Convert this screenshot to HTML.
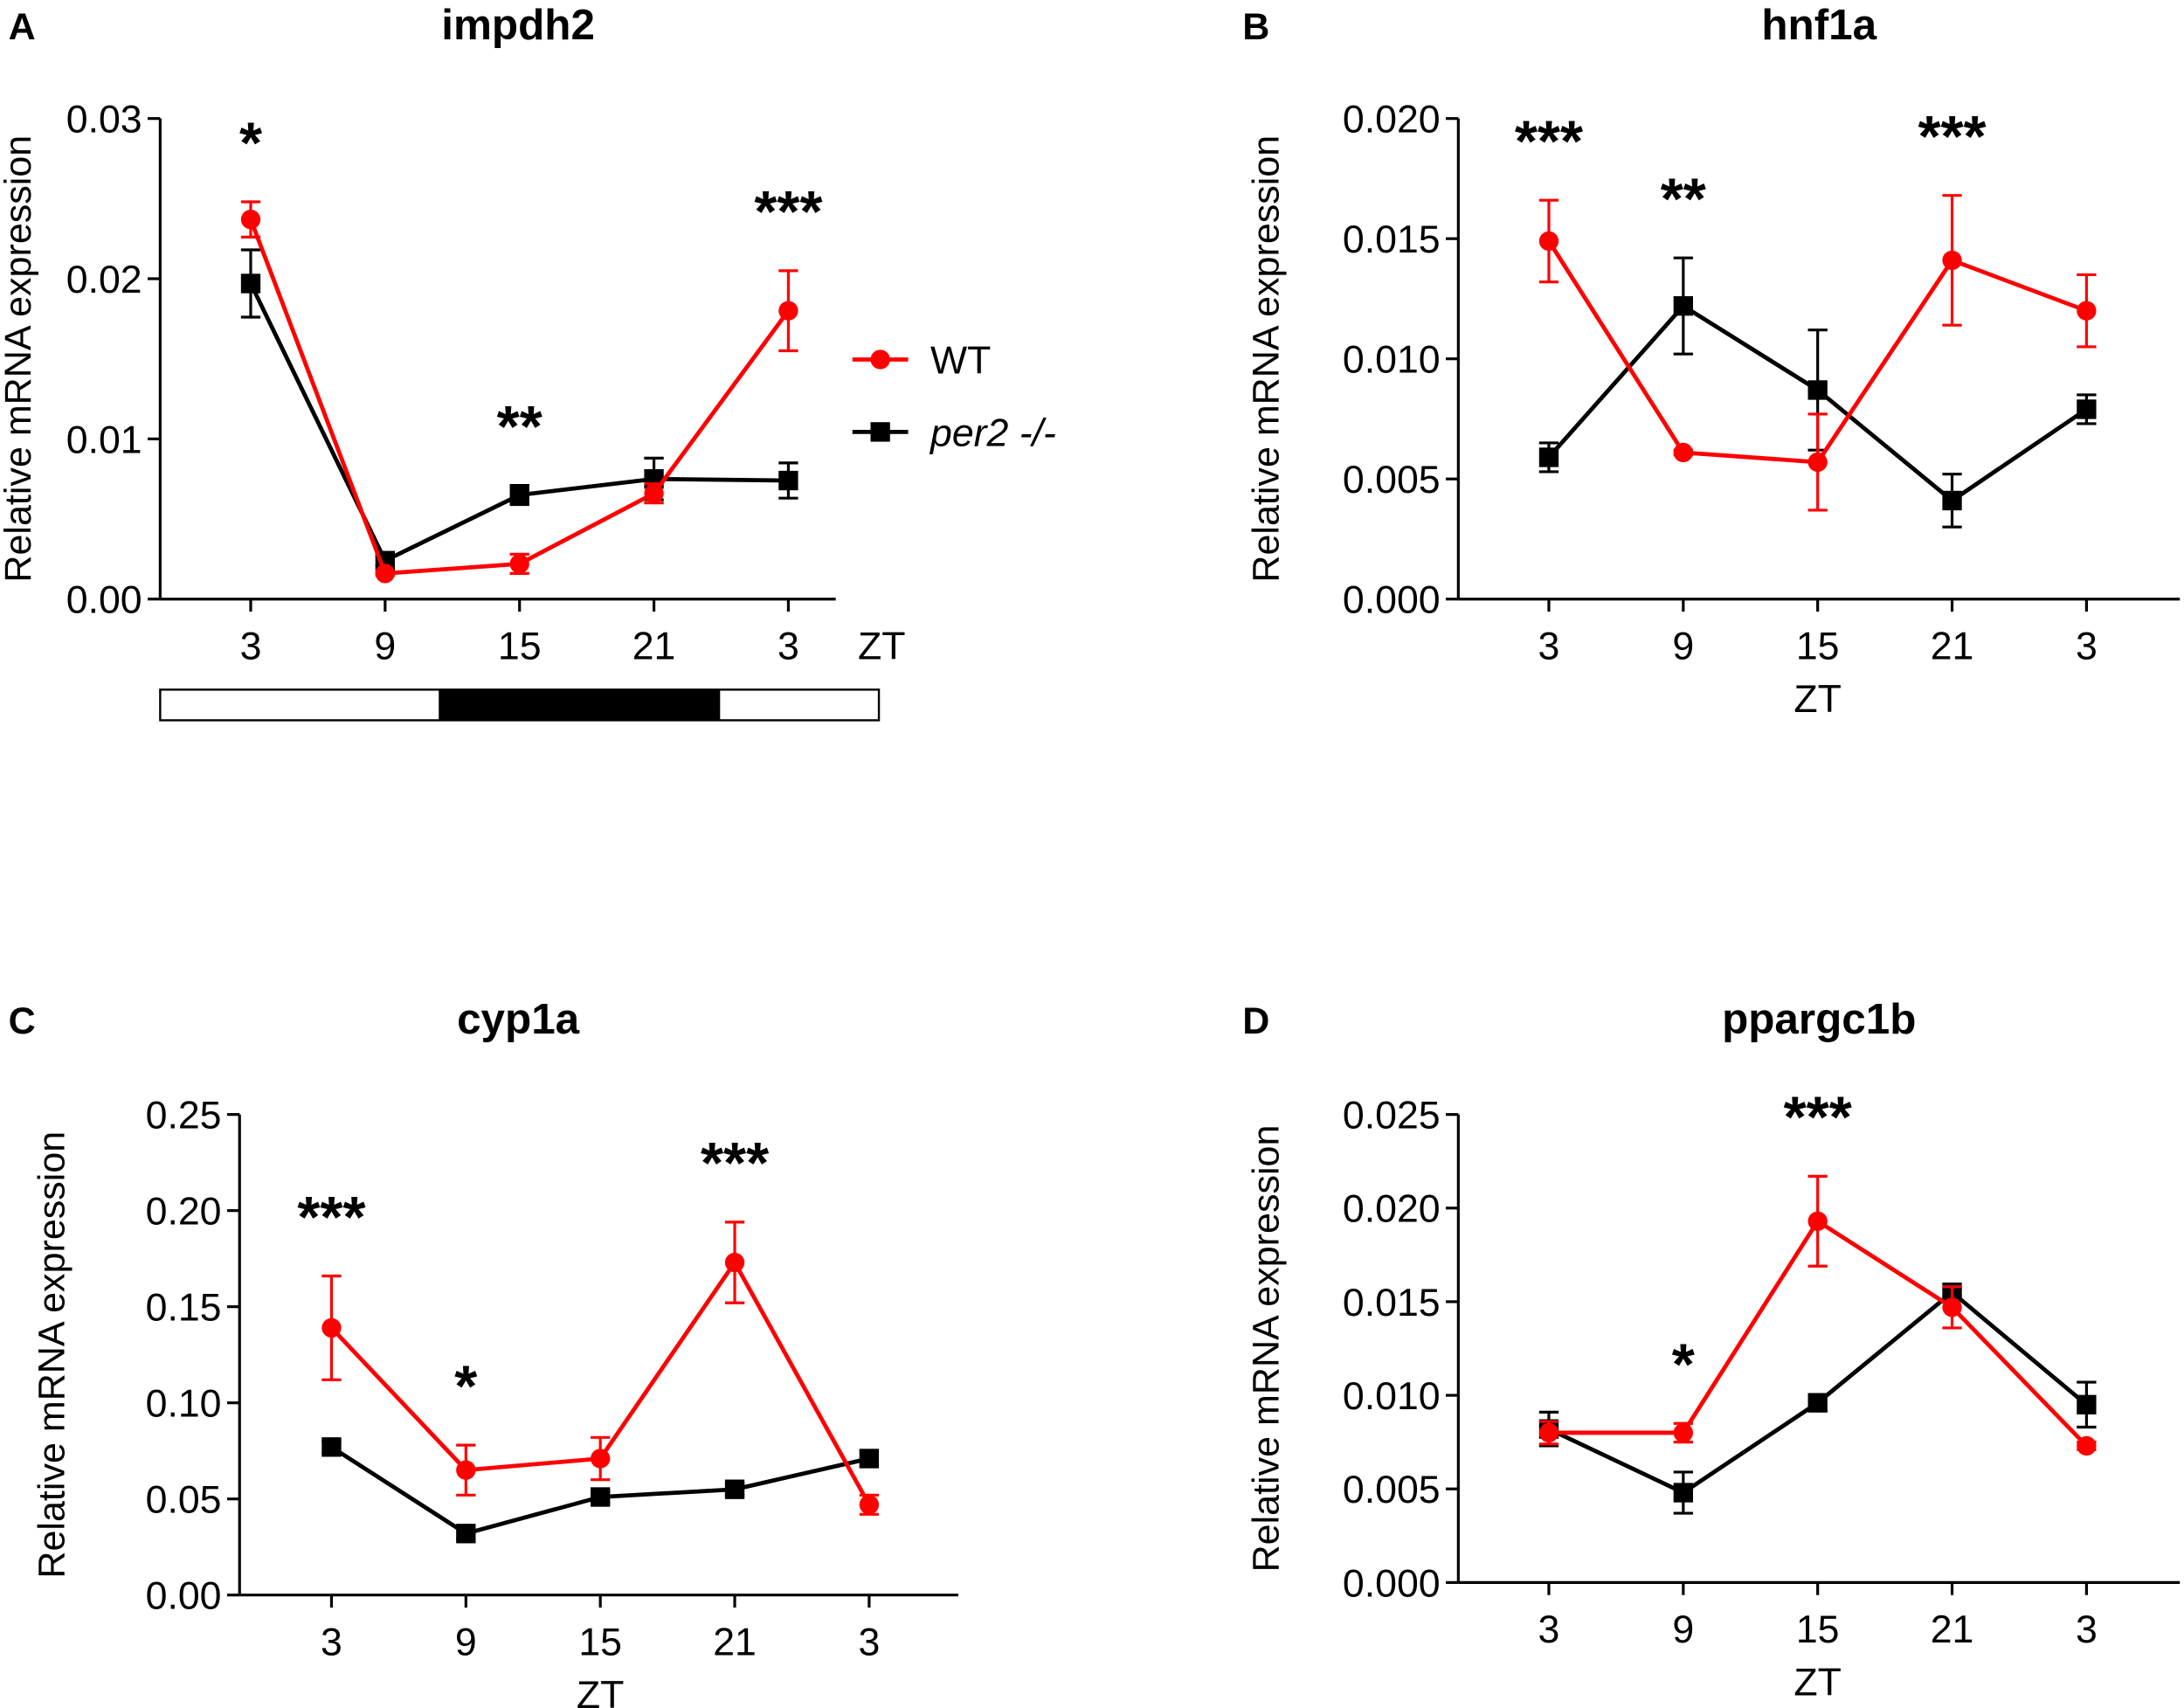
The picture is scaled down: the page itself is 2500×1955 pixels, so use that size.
<!DOCTYPE html>
<html><head><meta charset="utf-8">
<style>
html,body{margin:0;padding:0;background:#fff;}
svg{display:block;font-family:"Liberation Sans",Arial,sans-serif;}
</style></head>
<body>
<svg id="fig" width="2500" height="1955" viewBox="0 0 1568 1226" xmlns="http://www.w3.org/2000/svg"></svg>
<script>
const xCategories = ["3","9","15","21","3"];
// Panel A
const aWT = [0.0237,0.0016,0.0022,0.0066,0.0180];
const aWTerr = [0.0011,0.0001,0.0006,0.0006,0.0025];
const aKO = [0.0197,0.0024,0.0065,0.0075,0.0074];
const aKOerr = [0.0021,0.0003,0.0006,0.0013,0.0011];
const aTicks = ["0.00","0.01","0.02","0.03"];
const aStars = ["*","","**","","***"];
// Panel B
const bWT = [0.0149,0.0061,0.0057,0.0141,0.0120];
const bWTerr = [0.0017,0.0001,0.0020,0.0027,0.0015];
const bKO = [0.0059,0.0122,0.0087,0.0041,0.0079];
const bKOerr = [0.0006,0.0020,0.0025,0.0011,0.0006];
const bTicks = ["0.000","0.005","0.010","0.015","0.020"];
const bStars = ["***","**","","***",""];
// Panel C
const cWT = [0.139,0.065,0.071,0.173,0.047];
const cWTerr = [0.027,0.013,0.011,0.021,0.005];
const cKO = [0.077,0.032,0.051,0.055,0.071];
const cKOerr = [0.003,0.003,0.003,0.003,0.004];
const cTicks = ["0.00","0.05","0.10","0.15","0.20","0.25"];
const cStars = ["***","*","","***",""];
// Panel D
const dWT = [0.0080,0.0080,0.0193,0.0147,0.0073];
const dWTerr = [0.0006,0.0005,0.0024,0.0011,0.0002];
const dKO = [0.0082,0.0048,0.0096,0.0155,0.0095];
const dKOerr = [0.0009,0.0011,0.0004,0.0002,0.0012];
const dTicks = ["0.000","0.005","0.010","0.015","0.020","0.025"];
const dStars = ["","*","***","",""];

const svg=document.getElementById('fig');
const NS="http://www.w3.org/2000/svg";
function el(tag,attrs,parent,text){const e=document.createElementNS(NS,tag);for(const k in attrs)e.setAttribute(k,attrs[k]);if(text!==undefined)e.textContent=text;(parent||svg).appendChild(e);return e;}

function panel(cfg){
  const g=el('g',{},svg);
  
  
  const yMax=cfg.yMax;
  const ys=v=>cfg.y0-(v/yMax)*(cfg.y0-cfg.yTop);
  const xs=i=>cfg.x0+i*cfg.dx;
  const ya=el('line',{x1:cfg.ax,y1:cfg.yTop,x2:cfg.ax,y2:cfg.y0,stroke:'#000','stroke-width':2},g);
  
  
  const xa=el('line',{x1:cfg.ax,y1:cfg.y0,x2:cfg.axEnd,y2:cfg.y0,stroke:'#000','stroke-width':2},g);
  
  
  cfg.ticks.forEach((t,i)=>{
    const v=i*yMax/(cfg.ticks.length-1);const y=ys(v);
    el('line',{x1:cfg.ax-9,y1:y,x2:cfg.ax,y2:y,stroke:'#000','stroke-width':2},g);
    const tl=el('text',{x:cfg.ax-13,y:y+10,'text-anchor':'end','font-size':28},g,t);
    
    
  });
  xCategories.forEach((c,i)=>{
    const x=xs(i);
    el('line',{x1:x,y1:cfg.y0,x2:x,y2:cfg.y0+9,stroke:'#000','stroke-width':2},g);
    const tl=el('text',{x:x,y:cfg.y0+43,'text-anchor':'middle','font-size':28},g,c);
    
    
  });
  const yl=el('text',{x:0,y:0,'text-anchor':'middle','font-size':27,transform:`translate(${cfg.ylx},${(cfg.y0+cfg.yTop)/2}) rotate(-90)`},g,'Relative mRNA expression');
  
  
  if(cfg.ztBelow){
    const zt=el('text',{x:xs(2),y:cfg.y0+81,'text-anchor':'middle','font-size':28},g,'ZT');
    
    
  }
  const ti=el('text',{x:cfg.titleX,y:cfg.titleY,'text-anchor':'middle','font-size':31,'font-weight':'bold'},g,cfg.title);
  
  
  const lb=el('text',{x:cfg.lx,y:cfg.titleY,'font-size':27,'font-weight':'bold'},g,cfg.key);
  
  
  function series(vals,errs,color,shape,name){
    const sg=el('g',{},g);
    
    
    errs.forEach((e,i)=>{
      const x=xs(i);
      el('line',{x1:x,y1:ys(vals[i]+e),x2:x,y2:ys(vals[i]-e),stroke:color,'stroke-width':2},sg);
      el('line',{x1:x-7,y1:ys(vals[i]+e),x2:x+7,y2:ys(vals[i]+e),stroke:color,'stroke-width':2},sg);
      el('line',{x1:x-7,y1:ys(vals[i]-e),x2:x+7,y2:ys(vals[i]-e),stroke:color,'stroke-width':2},sg);
    });
    el('polyline',{points:vals.map((v,i)=>xs(i)+','+ys(v)).join(' '),fill:'none',stroke:color,'stroke-width':3},sg);
    vals.forEach((v,i)=>{
      let m;
      if(shape==='c') m=el('circle',{cx:xs(i),cy:ys(v),r:7,fill:color},sg);
      else m=el('rect',{x:xs(i)-7,y:ys(v)-7,width:14,height:14,fill:color},sg);
      
      
    });
  }
  series(cfg.ko,cfg.koErr,'#000','s','series-per2');
  series(cfg.wt,cfg.wtErr,'#ff0000','c','series-wt');
  cfg.stars.forEach((s,i)=>{
    if(!s)return;
    const top=Math.max(cfg.wt[i]+cfg.wtErr[i],cfg.ko[i]+cfg.koErr[i]);
    const st=el('text',{x:xs(i),y:ys(top)-cfg.starGap+14,'text-anchor':'middle','font-size':42,'font-weight':'bold'},g,s);
    
    
  });
  return {g,xs,ys};
}

const A=panel({key:'A',title:'impdh2',wt:aWT,wtErr:aWTerr,ko:aKO,koErr:aKOerr,ticks:aTicks,stars:aStars,yMax:0.03,
  ax:115,axEnd:600,yTop:85,y0:430,x0:180,dx:96.5,ylx:22,titleX:372,titleY:28,lx:6,starGap:42});
const zt=el('text',{x:633,y:473,'text-anchor':'middle','font-size':28},A.g,'ZT');


const bar=el('g',{},A.g);


el('rect',{x:115,y:495,width:516,height:22,fill:'#fff',stroke:'#000','stroke-width':1.5},bar);
el('rect',{x:315,y:495,width:202,height:22,fill:'#000'},bar);
const leg=el('g',{},A.g);


el('line',{x1:612,y1:258,x2:652,y2:258,stroke:'#ff0000','stroke-width':3},leg);
el('circle',{cx:632,cy:258,r:7,fill:'#ff0000'},leg);
el('text',{x:668,y:268,'font-size':28},leg,'WT');
el('line',{x1:612,y1:310,x2:652,y2:310,stroke:'#000','stroke-width':3},leg);
el('rect',{x:625,y:303,width:14,height:14,fill:'#000'},leg);
el('text',{x:668,y:320,'font-size':28,'font-style':'italic'},leg,'per2 -/-');

panel({key:'B',title:'hnf1a',wt:bWT,wtErr:bWTerr,ko:bKO,koErr:bKOerr,ticks:bTicks,stars:bStars,yMax:0.020,
  ax:1047,axEnd:1565,yTop:85,y0:430,x0:1112,dx:96.5,ylx:918,titleX:1306,titleY:28,lx:892,starGap:42,ztBelow:true});
panel({key:'C',title:'cyp1a',wt:cWT,wtErr:cWTerr,ko:cKO,koErr:cKOerr,ticks:cTicks,stars:cStars,yMax:0.25,
  ax:172,axEnd:688,yTop:800,y0:1145,x0:238,dx:96.5,ylx:46,titleX:372,titleY:742,lx:6,starGap:42,ztBelow:true});
panel({key:'D',title:'ppargc1b',wt:dWT,wtErr:dWTerr,ko:dKO,koErr:dKOerr,ticks:dTicks,stars:dStars,yMax:0.025,
  ax:1047,axEnd:1565,yTop:800,y0:1136,x0:1112,dx:96.5,ylx:918,titleX:1306,titleY:742,lx:892,starGap:42,ztBelow:true});
</script>
</body></html>
